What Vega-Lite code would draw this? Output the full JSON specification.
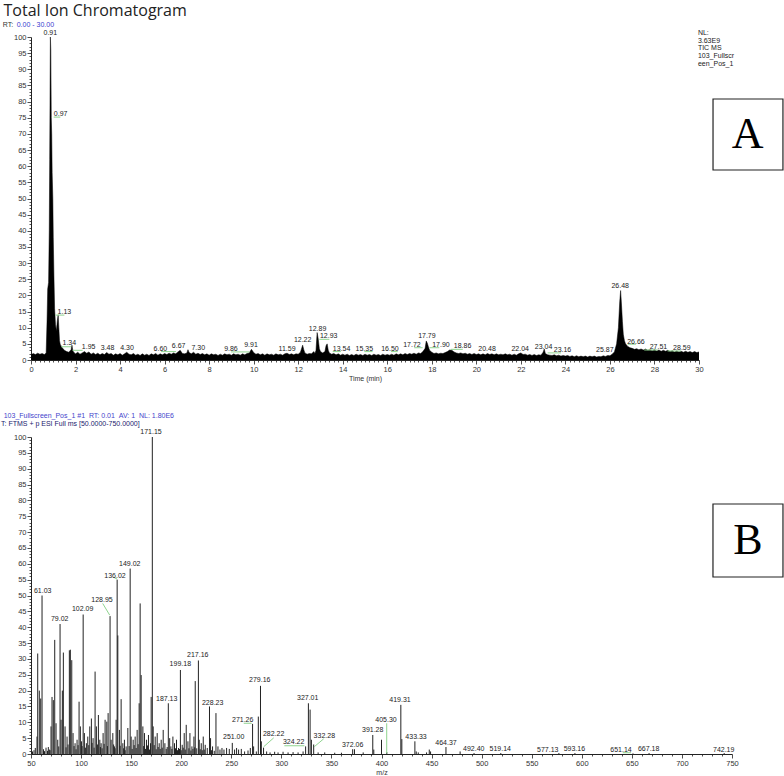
{
"$schema": "https://vega.github.io/schema/vega-lite/v6.json",
"padding": {"left": 0, "top": 3, "right": 0, "bottom": 0},
"background": "white",
"bounds": "flush",
"spacing": 77,
"config": {
  "view": {"stroke": null},
  "axis": {"labelFont": "Liberation Sans", "labelFontSize": 7.5, "labelColor": "#333", "domainColor": "#222", "tickColor": "#222", "grid": false, "labelOverlap": false, "labelFlush": false, "titleFont": "Liberation Sans", "titleFontSize": 7, "titleFontWeight": "normal", "titleColor": "#333", "domainWidth": 1, "tickWidth": 0.8}
},
"datasets": {
  "tic": [
{"t":0,"i":1.6},{"t":0.1,"i":2.0},{"t":0.2,"i":1.7},{"t":0.3,"i":2.1},{"t":0.4,"i":1.8},{"t":0.5,"i":2.0},{"t":0.6,"i":1.7},{"t":0.68,"i":2.2},{"t":0.72,"i":12},{"t":0.75,"i":22},{"t":0.79,"i":24},{"t":0.82,"i":40},{"t":0.84,"i":62},{"t":0.87,"i":100},{"t":0.89,"i":96},{"t":0.91,"i":75},{"t":0.93,"i":70},{"t":0.95,"i":58},{"t":0.98,"i":50},{"t":1.0,"i":38},{"t":1.03,"i":26},{"t":1.06,"i":16},{"t":1.1,"i":11},{"t":1.14,"i":9},{"t":1.18,"i":12},{"t":1.22,"i":14},{"t":1.25,"i":10},{"t":1.28,"i":6},{"t":1.32,"i":4.6},{"t":1.36,"i":4.4},{"t":1.4,"i":3.8},{"t":1.45,"i":3.4},{"t":1.5,"i":3.0},{"t":1.6,"i":2.6},{"t":1.7,"i":2.4},{"t":1.8,"i":3.2},{"t":1.84,"i":4.6},{"t":1.88,"i":2.8},{"t":1.95,"i":2.2},{"t":2.0,"i":1.9},
{"t":2.1,"i":2.4},{"t":2.2,"i":1.8},{"t":2.3,"i":2.2},{"t":2.4,"i":2.6},{"t":2.5,"i":2.1},{"t":2.6,"i":2.5},{"t":2.7,"i":1.8},{"t":2.8,"i":2.2},{"t":2.9,"i":1.7},{"t":3.0,"i":2.1},{"t":3.1,"i":1.6},{"t":3.2,"i":2.0},{"t":3.3,"i":1.7},{"t":3.4,"i":2.3},{"t":3.5,"i":1.8},{"t":3.6,"i":2.0},{"t":3.7,"i":1.5},{"t":3.8,"i":1.9},{"t":3.9,"i":1.6},{"t":4.0,"i":2.0},{"t":4.1,"i":1.5},{"t":4.2,"i":1.9},{"t":4.3,"i":2.4},{"t":4.4,"i":1.8},{"t":4.5,"i":1.6},{"t":4.6,"i":2.0},{"t":4.7,"i":1.5},{"t":4.8,"i":1.8},{"t":4.9,"i":1.4},{"t":5.0,"i":1.9},{"t":5.1,"i":1.5},{"t":5.2,"i":1.8},{"t":5.3,"i":1.4},{"t":5.4,"i":1.9},{"t":5.5,"i":1.6},{"t":5.6,"i":2.0},{"t":5.7,"i":1.5},{"t":5.8,"i":1.9},{"t":5.9,"i":1.6},{"t":6.0,"i":2.0},{"t":6.1,"i":1.7},{"t":6.2,"i":2.1},{"t":6.3,"i":1.8},{"t":6.4,"i":2.2},{"t":6.5,"i":1.9},{"t":6.6,"i":2.5},{"t":6.7,"i":3.0},{"t":6.8,"i":2.0},{"t":6.9,"i":1.9},{"t":7.0,"i":2.2},{"t":7.05,"i":3.2},{"t":7.1,"i":2.3},{"t":7.2,"i":1.9},{"t":7.3,"i":2.4},{"t":7.4,"i":1.8},{"t":7.5,"i":2.1},{"t":7.6,"i":1.7},{"t":7.7,"i":2.0},{"t":7.8,"i":1.6},{"t":7.9,"i":1.9},{"t":8.0,"i":1.5},{"t":8.1,"i":1.9},{"t":8.2,"i":1.6},{"t":8.3,"i":1.8},{"t":8.4,"i":1.4},{"t":8.5,"i":1.8},{"t":8.6,"i":1.5},{"t":8.7,"i":1.9},{"t":8.8,"i":1.6},{"t":8.9,"i":1.8},{"t":9.0,"i":1.5},{"t":9.1,"i":1.9},{"t":9.2,"i":1.6},{"t":9.3,"i":1.8},{"t":9.4,"i":1.5},{"t":9.5,"i":1.9},{"t":9.6,"i":1.6},{"t":9.7,"i":2.0},{"t":9.8,"i":2.2},{"t":9.9,"i":3.3},{"t":10.0,"i":2.3},{"t":10.1,"i":1.8},{"t":10.2,"i":2.0},{"t":10.3,"i":1.6},{"t":10.4,"i":1.9},{"t":10.5,"i":1.5},{"t":10.6,"i":1.9},{"t":10.7,"i":1.6},{"t":10.8,"i":1.8},{"t":10.9,"i":1.5},{"t":11.0,"i":1.9},{"t":11.1,"i":1.6},{"t":11.2,"i":1.8},{"t":11.3,"i":1.5},{"t":11.4,"i":1.9},{"t":11.5,"i":2.1},{"t":11.6,"i":1.7},{"t":11.7,"i":1.9},{"t":11.8,"i":1.6},{"t":11.9,"i":1.9},{"t":12.0,"i":1.8},{"t":12.1,"i":2.4},{"t":12.2,"i":4.6},{"t":12.25,"i":3.2},{"t":12.3,"i":2.2},{"t":12.4,"i":1.8},{"t":12.5,"i":2.0},{"t":12.6,"i":1.9},{"t":12.7,"i":2.6},{"t":12.75,"i":2.0},{"t":12.8,"i":3.0},{"t":12.85,"i":8.5},{"t":12.9,"i":6.5},{"t":12.95,"i":3.5},{"t":13.0,"i":2.6},{"t":13.1,"i":2.2},{"t":13.2,"i":2.6},{"t":13.25,"i":4.4},{"t":13.3,"i":5.0},{"t":13.35,"i":3.0},{"t":13.4,"i":2.2},{"t":13.5,"i":1.8},{"t":13.6,"i":2.0},{"t":13.7,"i":1.6},{"t":13.8,"i":1.9},{"t":13.9,"i":1.5},{"t":14.0,"i":1.8},{"t":14.1,"i":1.5},{"t":14.2,"i":1.8},{"t":14.3,"i":1.4},{"t":14.4,"i":1.7},{"t":14.5,"i":1.4},{"t":14.6,"i":1.8},{"t":14.7,"i":1.5},{"t":14.8,"i":1.7},{"t":14.9,"i":1.4},{"t":15.0,"i":1.8},{"t":15.1,"i":1.5},{"t":15.2,"i":1.7},{"t":15.3,"i":1.4},{"t":15.4,"i":1.8},{"t":15.5,"i":1.5},{"t":15.6,"i":1.7},{"t":15.7,"i":1.4},{"t":15.8,"i":1.8},{"t":15.9,"i":1.5},{"t":16.0,"i":1.7},{"t":16.1,"i":1.5},{"t":16.2,"i":1.8},{"t":16.3,"i":1.5},{"t":16.4,"i":1.9},{"t":16.5,"i":1.6},{"t":16.6,"i":1.9},{"t":16.7,"i":1.6},{"t":16.8,"i":2.0},{"t":16.9,"i":1.7},{"t":17.0,"i":2.0},{"t":17.1,"i":1.8},{"t":17.2,"i":2.1},{"t":17.3,"i":1.8},{"t":17.4,"i":2.2},{"t":17.5,"i":2.0},{"t":17.6,"i":2.6},{"t":17.7,"i":3.6},{"t":17.75,"i":5.9},{"t":17.8,"i":5.2},{"t":17.85,"i":4.0},{"t":17.9,"i":3.0},{"t":18.0,"i":2.4},{"t":18.1,"i":2.0},{"t":18.2,"i":2.2},{"t":18.3,"i":1.9},{"t":18.4,"i":2.1},{"t":18.5,"i":2.0},{"t":18.6,"i":2.3},{"t":18.7,"i":2.6},{"t":18.8,"i":3.1},{"t":18.9,"i":3.0},{"t":19.0,"i":2.5},{"t":19.1,"i":2.2},{"t":19.2,"i":2.0},{"t":19.3,"i":2.2},{"t":19.4,"i":1.9},{"t":19.5,"i":2.1},{"t":19.6,"i":1.8},{"t":19.7,"i":2.0},{"t":19.8,"i":1.7},{"t":19.9,"i":2.0},{"t":20.0,"i":1.7},{"t":20.1,"i":1.9},{"t":20.2,"i":1.6},{"t":20.3,"i":1.9},{"t":20.4,"i":1.6},{"t":20.5,"i":2.0},{"t":20.6,"i":1.7},{"t":20.7,"i":1.9},{"t":20.8,"i":1.6},{"t":20.9,"i":1.9},{"t":21.0,"i":1.6},{"t":21.1,"i":1.8},{"t":21.2,"i":1.6},{"t":21.3,"i":1.9},{"t":21.4,"i":1.6},{"t":21.5,"i":1.8},{"t":21.6,"i":1.5},{"t":21.7,"i":1.8},{"t":21.8,"i":1.5},{"t":21.9,"i":1.9},{"t":22.0,"i":2.2},{"t":22.1,"i":1.7},{"t":22.2,"i":1.8},{"t":22.3,"i":1.5},{"t":22.4,"i":1.7},{"t":22.5,"i":1.4},{"t":22.6,"i":1.7},{"t":22.7,"i":1.4},{"t":22.8,"i":1.6},{"t":22.9,"i":1.5},{"t":23.0,"i":2.4},{"t":23.05,"i":3.4},{"t":23.1,"i":2.0},{"t":23.2,"i":1.6},{"t":23.3,"i":1.5},{"t":23.4,"i":1.4},{"t":23.5,"i":1.6},{"t":23.6,"i":1.3},{"t":23.7,"i":1.5},{"t":23.8,"i":1.2},{"t":23.9,"i":1.4},{"t":24.0,"i":1.2},{"t":24.1,"i":1.4},{"t":24.2,"i":1.1},{"t":24.3,"i":1.3},{"t":24.4,"i":1.0},{"t":24.5,"i":1.3},{"t":24.6,"i":1.0},{"t":24.7,"i":1.2},{"t":24.8,"i":1.0},{"t":24.9,"i":1.2},{"t":25.0,"i":0.9},{"t":25.1,"i":1.2},{"t":25.2,"i":1.0},{"t":25.3,"i":1.2},{"t":25.4,"i":0.9},{"t":25.5,"i":1.1},{"t":25.6,"i":1.0},{"t":25.7,"i":1.3},{"t":25.8,"i":1.1},{"t":25.9,"i":1.4},{"t":26.0,"i":1.3},{"t":26.1,"i":1.8},{"t":26.2,"i":2.5},{"t":26.3,"i":5},{"t":26.38,"i":10},{"t":26.44,"i":18},{"t":26.48,"i":21.5},{"t":26.52,"i":17},{"t":26.56,"i":12},{"t":26.6,"i":8},{"t":26.65,"i":6},{"t":26.7,"i":5},{"t":26.8,"i":4.2},{"t":26.9,"i":3.8},{"t":27.0,"i":3.6},{"t":27.1,"i":3.3},{"t":27.2,"i":3.5},{"t":27.3,"i":3.2},{"t":27.4,"i":3.4},{"t":27.5,"i":3.1},{"t":27.6,"i":3.4},{"t":27.7,"i":3.0},{"t":27.8,"i":3.2},{"t":27.9,"i":2.9},{"t":28.0,"i":3.2},{"t":28.1,"i":2.8},{"t":28.2,"i":3.1},{"t":28.3,"i":2.7},{"t":28.4,"i":3.0},{"t":28.5,"i":2.7},{"t":28.6,"i":3.0},{"t":28.7,"i":2.6},{"t":28.8,"i":2.9},{"t":28.9,"i":2.5},{"t":29.0,"i":2.8},{"t":29.1,"i":2.5},{"t":29.2,"i":2.7},{"t":29.3,"i":2.4},{"t":29.4,"i":2.7},{"t":29.5,"i":2.4},{"t":29.6,"i":2.6},{"t":29.7,"i":2.3},{"t":29.8,"i":2.6},{"t":29.9,"i":2.3},{"t":30.0,"i":2.5}
  ],
  "ticLabels": [
{"x":0.867,"y":101.3,"label":"0.91"},{"x":1.33,"y":76.1,"label":"0.97"},{"x":1.50,"y":15,"label":"1.13"},{"x":1.72,"y":5.2,"label":"1.34"},{"x":2.59,"y":3.9,"label":"1.95"},{"x":3.44,"y":3.6,"label":"3.48"},{"x":4.31,"y":3.6,"label":"4.30"},{"x":5.81,"y":3.5,"label":"6.60"},{"x":6.63,"y":4.2,"label":"6.67"},{"x":7.51,"y":3.6,"label":"7.30"},{"x":8.98,"y":3.4,"label":"9.86"},{"x":9.88,"y":4.6,"label":"9.91"},{"x":11.50,"y":3.3,"label":"11.59"},{"x":12.20,"y":6.1,"label":"12.22"},{"x":12.87,"y":9.7,"label":"12.89"},{"x":13.37,"y":7.4,"label":"12.93"},{"x":13.95,"y":3.5,"label":"13.54"},{"x":14.97,"y":3.4,"label":"15.35"},{"x":16.12,"y":3.4,"label":"16.50"},{"x":17.11,"y":4.6,"label":"17.72"},{"x":17.78,"y":7.4,"label":"17.79"},{"x":18.41,"y":4.6,"label":"17.90"},{"x":19.38,"y":4.2,"label":"18.86"},{"x":20.48,"y":3.4,"label":"20.48"},{"x":21.97,"y":3.5,"label":"22.04"},{"x":23.02,"y":4.0,"label":"23.04"},{"x":23.87,"y":3.1,"label":"23.16"},{"x":25.77,"y":3.0,"label":"25.87"},{"x":26.46,"y":22.9,"label":"26.48"},{"x":27.17,"y":5.7,"label":"26.66"},{"x":28.18,"y":4.0,"label":"27.51"},{"x":29.23,"y":3.8,"label":"28.59"}
  ],
  "ticLeaders": [
{"x":1.02,"y":75.2,"x2":1.32,"y2":75.2},{"x":1.09,"y":13.9,"x2":1.50,"y2":13.9},{"x":1.35,"y":4.1,"x2":1.80,"y2":4.1},{"x":1.87,"y":3.0,"x2":2.32,"y2":3.0},{"x":5.84,"y":2.6,"x2":6.51,"y2":2.6},{"x":8.98,"y":2.5,"x2":9.81,"y2":2.5},{"x":12.95,"y":6.4,"x2":13.40,"y2":6.4},{"x":13.55,"y":2.6,"x2":13.92,"y2":2.6},{"x":14.97,"y":2.6,"x2":15.34,"y2":2.6},{"x":16.17,"y":2.6,"x2":16.47,"y2":2.6},{"x":17.21,"y":3.8,"x2":17.59,"y2":3.8},{"x":17.89,"y":3.8,"x2":18.34,"y2":3.8},{"x":18.86,"y":3.3,"x2":19.39,"y2":3.3},{"x":23.20,"y":2.2,"x2":23.80,"y2":2.2},{"x":26.80,"y":4.9,"x2":27.17,"y2":4.9},{"x":27.54,"y":3.1,"x2":28.15,"y2":3.1},{"x":28.59,"y":2.8,"x2":29.19,"y2":2.8}
  ],
  "ticNL": [
{"x":29.95,"y":101.3,"label":"NL:"},{"x":29.95,"y":98.85,"label":"3.63E9"},{"x":29.95,"y":96.5,"label":"TIC  MS"},{"x":29.95,"y":94.1,"label":"103_Fullscr"},{"x":29.95,"y":91.7,"label":"een_Pos_1"}
  ],
  "ticTitle": [{"x":-1.235,"y":106.35,"label":"Total Ion Chromatogram"}],
  "ticRT": [{"x":-1.271,"y":103.6,"label":"RT:"}],
  "ticRTv": [{"x":-0.642,"y":103.6,"label":"0.00 - 30.00"}],
  "boxA": [{"x":30.63,"x2":33.77,"y":80.8,"y2":58.82,"cx":32.19,"cy":65.6,"label":"A"}],
  "ms": [
{"mz":51.5,"ab":0.8},{"mz":53,"ab":1.2},{"mz":54.3,"ab":1.9},{"mz":56,"ab":5.5},{"mz":56.7,"ab":31.7},{"mz":58.3,"ab":20},{"mz":59.7,"ab":17.5},{"mz":61.03,"ab":50},{"mz":62.5,"ab":1.5},{"mz":63.5,"ab":0.9},{"mz":65,"ab":2},{"mz":66.5,"ab":1.0},{"mz":67.3,"ab":2.2},{"mz":68.3,"ab":1.4},{"mz":69,"ab":1.2},{"mz":70,"ab":8.7},{"mz":71,"ab":18},{"mz":72.3,"ab":17},{"mz":73.7,"ab":36},{"mz":75,"ab":9.7},{"mz":76.7,"ab":4.5},{"mz":77.7,"ab":2.4},{"mz":79.02,"ab":41},{"mz":80,"ab":10.8},{"mz":81.3,"ab":20},{"mz":82.3,"ab":32},{"mz":84,"ab":8.7},{"mz":85,"ab":2.1},{"mz":86,"ab":5.5},{"mz":87,"ab":3.0},{"mz":88.3,"ab":32.7},{"mz":89.3,"ab":32.9},{"mz":90.7,"ab":29.6},{"mz":92,"ab":6.6},{"mz":93,"ab":2.5},{"mz":94,"ab":3.4},{"mz":95,"ab":1.5},{"mz":96,"ab":4.5},{"mz":97,"ab":2.8},{"mz":98,"ab":16.5},{"mz":99.3,"ab":8.7},{"mz":100.5,"ab":4},{"mz":101,"ab":2.5},{"mz":102.09,"ab":44},{"mz":103.3,"ab":6.6},{"mz":104.3,"ab":2.0},{"mz":105.3,"ab":3.4},{"mz":106.7,"ab":5.5},{"mz":107.7,"ab":2.8},{"mz":108.7,"ab":8.7},{"mz":110.3,"ab":11.2},{"mz":111,"ab":3.5},{"mz":112,"ab":5},{"mz":113,"ab":2.0},{"mz":114,"ab":26},{"mz":115.3,"ab":8.7},{"mz":116.3,"ab":3.0},{"mz":117.3,"ab":12.3},{"mz":118.7,"ab":4.5},{"mz":119.3,"ab":2.2},{"mz":120,"ab":3.4},{"mz":121,"ab":1.8},{"mz":122,"ab":6.6},{"mz":123,"ab":3.2},{"mz":124,"ab":10.8},{"mz":125.7,"ab":10.2},{"mz":126.3,"ab":2.5},{"mz":127,"ab":12.9},{"mz":128.95,"ab":43.5},{"mz":130,"ab":4.5},{"mz":131.7,"ab":6.6},{"mz":132.5,"ab":3.0},{"mz":133.3,"ab":2.4},{"mz":134,"ab":1.8},{"mz":135,"ab":10.8},{"mz":136.02,"ab":55},{"mz":136.7,"ab":37.4},{"mz":138.3,"ab":7.6},{"mz":139,"ab":2.6},{"mz":140,"ab":17.3},{"mz":141.7,"ab":3.4},{"mz":142.5,"ab":1.8},{"mz":143.3,"ab":4.5},{"mz":144,"ab":1.2},{"mz":145,"ab":2.4},{"mz":146.7,"ab":8.2},{"mz":148,"ab":2.5},{"mz":149.02,"ab":58.5},{"mz":150,"ab":5.5},{"mz":151,"ab":1.6},{"mz":152,"ab":4.5},{"mz":153,"ab":2.8},{"mz":154,"ab":5.5},{"mz":155,"ab":1.9},{"mz":156,"ab":7.6},{"mz":157,"ab":3.1},{"mz":158,"ab":16},{"mz":159,"ab":47.5},{"mz":160,"ab":24.9},{"mz":161.7,"ab":8.7},{"mz":162.5,"ab":2.5},{"mz":163.3,"ab":6.6},{"mz":164.3,"ab":1.6},{"mz":165.3,"ab":4.5},{"mz":166.3,"ab":2.7},{"mz":167.3,"ab":6},{"mz":168.3,"ab":1.4},{"mz":169.3,"ab":3.4},{"mz":170,"ab":18},{"mz":171.15,"ab":100},{"mz":172,"ab":8.7},{"mz":173,"ab":2.8},{"mz":174,"ab":5.5},{"mz":175,"ab":1.5},{"mz":176,"ab":6.6},{"mz":177,"ab":2.2},{"mz":178,"ab":3.4},{"mz":179,"ab":1.6},{"mz":180,"ab":4.5},{"mz":181,"ab":2.0},{"mz":182,"ab":7.6},{"mz":183.7,"ab":3.4},{"mz":185,"ab":1.6},{"mz":186,"ab":2.2},{"mz":187.13,"ab":16},{"mz":188.5,"ab":5},{"mz":189.7,"ab":2.4},{"mz":190.7,"ab":1.6},{"mz":191.7,"ab":5.5},{"mz":193.3,"ab":3.4},{"mz":194.3,"ab":1.8},{"mz":195.3,"ab":4.5},{"mz":196.3,"ab":1.2},{"mz":197.3,"ab":1.9},{"mz":198.3,"ab":1.6},{"mz":199.18,"ab":26.5},{"mz":200,"ab":1.2},{"mz":201,"ab":2.9},{"mz":202,"ab":2.0},{"mz":203,"ab":6.6},{"mz":204,"ab":1.4},{"mz":205,"ab":9.2},{"mz":206.7,"ab":4},{"mz":207.7,"ab":1.8},{"mz":208.7,"ab":6.6},{"mz":209.7,"ab":1.1},{"mz":210.7,"ab":2.4},{"mz":211.7,"ab":1.6},{"mz":212.7,"ab":5.5},{"mz":213.5,"ab":2.1},{"mz":214,"ab":23},{"mz":215.5,"ab":1.8},{"mz":217.16,"ab":29.5},{"mz":218,"ab":4.5},{"mz":219,"ab":1.5},{"mz":220,"ab":3.4},{"mz":221,"ab":1.2},{"mz":222,"ab":5.5},{"mz":223,"ab":1.4},{"mz":224,"ab":2.9},{"mz":226,"ab":1.9},{"mz":228.23,"ab":15},{"mz":229.3,"ab":5},{"mz":230.3,"ab":1.2},{"mz":231.3,"ab":2.4},{"mz":233,"ab":1.0},{"mz":234.7,"ab":12.9},{"mz":236.7,"ab":2.4},{"mz":238.7,"ab":1.4},{"mz":240.7,"ab":1.9},{"mz":242.7,"ab":1.4},{"mz":245.3,"ab":1.9},{"mz":248,"ab":1.6},{"mz":251.0,"ab":3.5},{"mz":253.3,"ab":1.4},{"mz":255.3,"ab":1.9},{"mz":257.3,"ab":1.4},{"mz":260,"ab":1.6},{"mz":263.3,"ab":0.8},{"mz":266.7,"ab":1.1},{"mz":269,"ab":1.9},{"mz":271.26,"ab":9.5},{"mz":272.3,"ab":2.4},{"mz":275,"ab":0.8},{"mz":277,"ab":11.8},{"mz":279.16,"ab":21.5},{"mz":280,"ab":4},{"mz":282.22,"ab":2},{"mz":285.3,"ab":0.8},{"mz":288.7,"ab":0.5},{"mz":293.3,"ab":0.7},{"mz":296.7,"ab":0.5},{"mz":301.7,"ab":0.7},{"mz":306.7,"ab":0.5},{"mz":311.7,"ab":0.6},{"mz":316.7,"ab":0.5},{"mz":321.7,"ab":0.8},{"mz":324.22,"ab":2.4},{"mz":327.01,"ab":16},{"mz":328.7,"ab":14},{"mz":330,"ab":4.5},{"mz":332.28,"ab":3},{"mz":336.7,"ab":0.5},{"mz":343.3,"ab":0.5},{"mz":353.3,"ab":0.4},{"mz":360,"ab":0.4},{"mz":371.2,"ab":1.5},{"mz":373,"ab":1.5},{"mz":381.7,"ab":0.5},{"mz":391.28,"ab":6},{"mz":392.3,"ab":1.4},{"mz":400,"ab":4.5},{"mz":405.3,"ab":0.6},{"mz":419.31,"ab":15.5},{"mz":420.3,"ab":4.7},{"mz":433.33,"ab":4},{"mz":434.7,"ab":0.8},{"mz":436.7,"ab":0.5},{"mz":445,"ab":0.5},{"mz":447.7,"ab":1.4},{"mz":449,"ab":0.8},{"mz":464.37,"ab":2.2},{"mz":478.5,"ab":0.8},{"mz":492.4,"ab":0.3},{"mz":519.14,"ab":0.3},{"mz":577.13,"ab":0.3},{"mz":593.16,"ab":0.3},{"mz":651.14,"ab":0.2},{"mz":667.18,"ab":0.3},{"mz":742.19,"ab":0.3}
  ],
  "msLabels": [
{"x":61.7,"y":51.4,"label":"61.03"},{"x":78.7,"y":42.6,"label":"79.02"},{"x":101.6,"y":45.6,"label":"102.09"},{"x":120.9,"y":48.6,"label":"128.95"},{"x":133.9,"y":56.2,"label":"136.02"},{"x":148.6,"y":60.0,"label":"149.02"},{"x":169.8,"y":101.5,"label":"171.15"},{"x":185.5,"y":17.2,"label":"187.13"},{"x":199.1,"y":28.4,"label":"199.18"},{"x":216.5,"y":31.2,"label":"217.16"},{"x":231.4,"y":16.2,"label":"228.23"},{"x":252.4,"y":5.3,"label":"251.00"},{"x":261.4,"y":10.7,"label":"271.26"},{"x":278.4,"y":23.2,"label":"279.16"},{"x":292.3,"y":6.2,"label":"282.22"},{"x":312.3,"y":3.7,"label":"324.22"},{"x":326.3,"y":17.8,"label":"327.01"},{"x":342.9,"y":5.8,"label":"332.28"},{"x":371.2,"y":2.8,"label":"372.06"},{"x":391.2,"y":7.7,"label":"391.28"},{"x":404.5,"y":10.6,"label":"405.30"},{"x":418.5,"y":17,"label":"419.31"},{"x":434.5,"y":5.3,"label":"433.33"},{"x":464.4,"y":3.4,"label":"464.37"},{"x":492.1,"y":1.5,"label":"492.40"},{"x":518.6,"y":1.7,"label":"519.14"},{"x":566,"y":1.4,"label":"577.13"},{"x":592.6,"y":1.7,"label":"593.16"},{"x":639.2,"y":1.4,"label":"651.14"},{"x":666.8,"y":1.7,"label":"667.18"},{"x":741.7,"y":1.4,"label":"742.19"}
  ],
  "msLeaders": [
{"x":121.6,"y":47.5,"x2":128.6,"y2":43.8},{"x":133.2,"y":55.6,"x2":135.9,"y2":55.2},{"x":262.4,"y":9.7,"x2":270.4,"y2":9.7},{"x":282.4,"y":2.3,"x2":292.4,"y2":5.1},{"x":303,"y":2.6,"x2":323,"y2":2.6},{"x":332.9,"y":2.3,"x2":342.3,"y2":4.8},{"x":405.2,"y":9.7,"x2":405.2,"y2":0.2},{"x":640.9,"y":0.4,"x2":649.2,"y2":0.4}
  ],
  "msHead1": [{"x":22.74,"y":106.6,"label":"103_Fullscreen_Pos_1 #1\u00a0\u00a0RT: 0.01\u00a0\u00a0AV: 1\u00a0\u00a0NL: 1.80E6"}],
  "msHead2": [{"x":20.04,"y":104.1,"label":"T: FTMS + p ESI Full ms [50.0000-750.0000]"}],
  "boxB": [{"x":731.0,"x2":800.9,"y":78.86,"y2":55.84,"cx":765.8,"cy":63.1,"label":"B"}]
},
"vconcat": [
{
  "width": 668,
  "height": 323,
  "layer": [
    {"data": {"name": "tic"},
     "mark": {"type": "area", "color": "#000", "opacity": 1, "line": {"color": "#000", "strokeWidth": 0.5}},
     "encoding": {
       "x": {"field": "t", "type": "quantitative", "scale": {"domain": [0, 30], "nice": false, "zero": false},
         "axis": {"title": "Time (min)", "format": ".0f", "labelPadding": 1, "titlePadding": 2, "labelOverlap": false, "labelFlush": false, "labelBound": false, "tickCount": 1000,
           "values": [0,0.2,0.4,0.6,0.8,1,1.2,1.4,1.6,1.8,2,2.2,2.4,2.6,2.8,3,3.2,3.4,3.6,3.8,4,4.2,4.4,4.6,4.8,5,5.2,5.4,5.6,5.8,6,6.2,6.4,6.6,6.8,7,7.2,7.4,7.6,7.8,8,8.2,8.4,8.6,8.8,9,9.2,9.4,9.6,9.8,10,10.2,10.4,10.6,10.8,11,11.2,11.4,11.6,11.8,12,12.2,12.4,12.6,12.8,13,13.2,13.4,13.6,13.8,14,14.2,14.4,14.6,14.8,15,15.2,15.4,15.6,15.8,16,16.2,16.4,16.6,16.8,17,17.2,17.4,17.6,17.8,18,18.2,18.4,18.6,18.8,19,19.2,19.4,19.6,19.8,20,20.2,20.4,20.6,20.8,21,21.2,21.4,21.6,21.8,22,22.2,22.4,22.6,22.8,23,23.2,23.4,23.6,23.8,24,24.2,24.4,24.6,24.8,25,25.2,25.4,25.6,25.8,26,26.2,26.4,26.6,26.8,27,27.2,27.4,27.6,27.8,28,28.2,28.4,28.6,28.8,29,29.2,29.4,29.6,29.8,30],
           "labelExpr": "datum.value % 2 === 0 ? datum.label : ''",
           "tickSize": {"condition": {"test": "datum.value % 2 === 0", "value": 4}, "value": 2}}},
       "y": {"field": "i", "type": "quantitative", "scale": {"domain": [0, 100], "nice": false},
         "axis": {"title": null, "format": ".0f", "labelPadding": 1, "labelOverlap": false, "labelFlush": false, "labelBound": false, "tickCount": 1000,
           "values": [0,1,2,3,4,5,6,7,8,9,10,11,12,13,14,15,16,17,18,19,20,21,22,23,24,25,26,27,28,29,30,31,32,33,34,35,36,37,38,39,40,41,42,43,44,45,46,47,48,49,50,51,52,53,54,55,56,57,58,59,60,61,62,63,64,65,66,67,68,69,70,71,72,73,74,75,76,77,78,79,80,81,82,83,84,85,86,87,88,89,90,91,92,93,94,95,96,97,98,99,100],
           "labelExpr": "datum.value % 5 === 0 ? datum.label : ''",
           "tickSize": {"condition": {"test": "datum.value % 5 === 0", "value": 4}, "value": 2}}}
     }},
    {"data": {"name": "ticLeaders"},
     "mark": {"type": "rule", "color": "#8fd48f", "strokeWidth": 1},
     "encoding": {
       "x": {"field": "x", "type": "quantitative", "scale": {"domain": [0, 30], "nice": false, "zero": false}},
       "y": {"field": "y", "type": "quantitative", "scale": {"domain": [0, 100], "nice": false}},
       "x2": {"field": "x2"}, "y2": {"field": "y2"}}},
    {"data": {"name": "ticLabels"},
     "mark": {"type": "text", "font": "Liberation Sans", "fontSize": 7, "color": "#222", "align": "center", "baseline": "middle"},
     "encoding": {
       "x": {"field": "x", "type": "quantitative", "scale": {"domain": [0, 30], "nice": false, "zero": false}},
       "y": {"field": "y", "type": "quantitative", "scale": {"domain": [0, 100], "nice": false}},
       "text": {"field": "label", "type": "nominal"}}},
    {"data": {"name": "ticNL"},
     "mark": {"type": "text", "font": "Liberation Sans", "fontSize": 7, "color": "#222", "align": "left", "baseline": "middle"},
     "encoding": {
       "x": {"field": "x", "type": "quantitative", "scale": {"domain": [0, 30], "nice": false, "zero": false}},
       "y": {"field": "y", "type": "quantitative", "scale": {"domain": [0, 100], "nice": false}},
       "text": {"field": "label", "type": "nominal"}}},
    {"data": {"name": "ticTitle"},
     "mark": {"type": "text", "font": "Open Sans", "fontSize": 16, "color": "#222", "align": "left", "baseline": "alphabetic"},
     "encoding": {
       "x": {"field": "x", "type": "quantitative", "scale": {"domain": [0, 30], "nice": false, "zero": false}},
       "y": {"field": "y", "type": "quantitative", "scale": {"domain": [0, 100], "nice": false}},
       "text": {"field": "label", "type": "nominal"}}},
    {"data": {"name": "ticRT"},
     "mark": {"type": "text", "font": "Liberation Sans", "fontSize": 7, "color": "#333", "align": "left", "baseline": "middle"},
     "encoding": {
       "x": {"field": "x", "type": "quantitative", "scale": {"domain": [0, 30], "nice": false, "zero": false}},
       "y": {"field": "y", "type": "quantitative", "scale": {"domain": [0, 100], "nice": false}},
       "text": {"field": "label", "type": "nominal"}}},
    {"data": {"name": "ticRTv"},
     "mark": {"type": "text", "font": "Liberation Sans", "fontSize": 7, "color": "#3b3bd0", "align": "left", "baseline": "middle"},
     "encoding": {
       "x": {"field": "x", "type": "quantitative", "scale": {"domain": [0, 30], "nice": false, "zero": false}},
       "y": {"field": "y", "type": "quantitative", "scale": {"domain": [0, 100], "nice": false}},
       "text": {"field": "label", "type": "nominal"}}},
    {"data": {"name": "boxA"},
     "mark": {"type": "rect", "fill": "white", "stroke": "#222", "strokeWidth": 1.2},
     "encoding": {
       "x": {"field": "x", "type": "quantitative", "scale": {"domain": [0, 30], "nice": false, "zero": false}},
       "x2": {"field": "x2"},
       "y": {"field": "y", "type": "quantitative", "scale": {"domain": [0, 100], "nice": false}},
       "y2": {"field": "y2"}}},
    {"data": {"name": "boxA"},
     "mark": {"type": "text", "font": "Liberation Serif", "fontSize": 44, "color": "#000", "align": "center", "baseline": "alphabetic"},
     "encoding": {
       "x": {"field": "cx", "type": "quantitative", "scale": {"domain": [0, 30], "nice": false, "zero": false}},
       "y": {"field": "cy", "type": "quantitative", "scale": {"domain": [0, 100], "nice": false}},
       "text": {"field": "label", "type": "nominal"}}}
  ]
},
{
  "width": 701,
  "height": 317,
  "layer": [
    {"data": {"name": "ms"},
     "mark": {"type": "rule", "color": "#222", "strokeWidth": 1},
     "encoding": {
       "x": {"field": "mz", "type": "quantitative", "scale": {"domain": [50, 750], "nice": false, "zero": false},
         "axis": {"title": "m/z", "format": ".0f", "labelPadding": 1, "titlePadding": 2, "labelOverlap": false, "labelFlush": false, "labelBound": false, "tickCount": 1000,
           "values": [50,60,70,80,90,100,110,120,130,140,150,160,170,180,190,200,210,220,230,240,250,260,270,280,290,300,310,320,330,340,350,360,370,380,390,400,410,420,430,440,450,460,470,480,490,500,510,520,530,540,550,560,570,580,590,600,610,620,630,640,650,660,670,680,690,700,710,720,730,740,750],
           "labelExpr": "datum.value % 50 === 0 ? datum.label : ''",
           "tickSize": {"condition": {"test": "datum.value % 50 === 0", "value": 4}, "value": 2}}},
       "y": {"field": "ab", "type": "quantitative", "scale": {"domain": [0, 100], "nice": false},
         "axis": {"title": null, "format": ".0f", "labelPadding": 1, "labelOverlap": false, "labelFlush": false, "labelBound": false, "tickCount": 1000,
           "values": [0,1,2,3,4,5,6,7,8,9,10,11,12,13,14,15,16,17,18,19,20,21,22,23,24,25,26,27,28,29,30,31,32,33,34,35,36,37,38,39,40,41,42,43,44,45,46,47,48,49,50,51,52,53,54,55,56,57,58,59,60,61,62,63,64,65,66,67,68,69,70,71,72,73,74,75,76,77,78,79,80,81,82,83,84,85,86,87,88,89,90,91,92,93,94,95,96,97,98,99,100],
           "labelExpr": "datum.value % 5 === 0 ? datum.label : ''",
           "tickSize": {"condition": {"test": "datum.value % 5 === 0", "value": 4}, "value": 2}}},
       "y2": {"datum": 0}
     }},
    {"data": {"name": "msLeaders"},
     "mark": {"type": "rule", "color": "#8fd48f", "strokeWidth": 1},
     "encoding": {
       "x": {"field": "x", "type": "quantitative", "scale": {"domain": [50, 750], "nice": false, "zero": false}},
       "y": {"field": "y", "type": "quantitative", "scale": {"domain": [0, 100], "nice": false}},
       "x2": {"field": "x2"}, "y2": {"field": "y2"}}},
    {"data": {"name": "msLabels"},
     "mark": {"type": "text", "font": "Liberation Sans", "fontSize": 7, "color": "#222", "align": "center", "baseline": "middle"},
     "encoding": {
       "x": {"field": "x", "type": "quantitative", "scale": {"domain": [50, 750], "nice": false, "zero": false}},
       "y": {"field": "y", "type": "quantitative", "scale": {"domain": [0, 100], "nice": false}},
       "text": {"field": "label", "type": "nominal"}}},
    {"data": {"name": "msHead1"},
     "mark": {"type": "text", "font": "Liberation Sans", "fontSize": 7, "color": "#4444cc", "align": "left", "baseline": "middle"},
     "encoding": {
       "x": {"field": "x", "type": "quantitative", "scale": {"domain": [50, 750], "nice": false, "zero": false}},
       "y": {"field": "y", "type": "quantitative", "scale": {"domain": [0, 100], "nice": false}},
       "text": {"field": "label", "type": "nominal"}}},
    {"data": {"name": "msHead2"},
     "mark": {"type": "text", "font": "Liberation Sans", "fontSize": 7, "color": "#22226e", "align": "left", "baseline": "middle"},
     "encoding": {
       "x": {"field": "x", "type": "quantitative", "scale": {"domain": [50, 750], "nice": false, "zero": false}},
       "y": {"field": "y", "type": "quantitative", "scale": {"domain": [0, 100], "nice": false}},
       "text": {"field": "label", "type": "nominal"}}},
    {"data": {"name": "boxB"},
     "mark": {"type": "rect", "fill": "white", "stroke": "#222", "strokeWidth": 1.2},
     "encoding": {
       "x": {"field": "x", "type": "quantitative", "scale": {"domain": [50, 750], "nice": false, "zero": false}},
       "x2": {"field": "x2"},
       "y": {"field": "y", "type": "quantitative", "scale": {"domain": [0, 100], "nice": false}},
       "y2": {"field": "y2"}}},
    {"data": {"name": "boxB"},
     "mark": {"type": "text", "font": "Liberation Serif", "fontSize": 44, "color": "#000", "align": "center", "baseline": "alphabetic"},
     "encoding": {
       "x": {"field": "cx", "type": "quantitative", "scale": {"domain": [50, 750], "nice": false, "zero": false}},
       "y": {"field": "cy", "type": "quantitative", "scale": {"domain": [0, 100], "nice": false}},
       "text": {"field": "label", "type": "nominal"}}}
  ]
}
]
}
